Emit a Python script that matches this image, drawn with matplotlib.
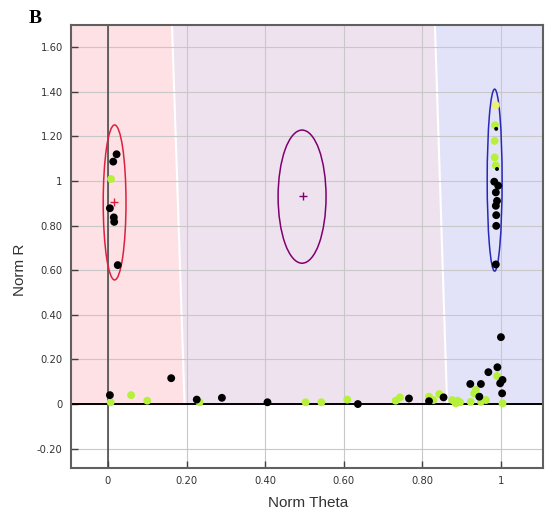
import numpy as np
import matplotlib.pyplot as plt
from matplotlib.patches import Ellipse, Polygon

# black points (theta, r)
blk_x = [0.022, 0.0135, 0.005, 0.015, 0.016, 0.025,
         0.005, 0.161, 0.226, 0.29, 0.406, 0.636, 0.766, 0.817, 0.854,
         0.922, 0.945, 0.949, 0.968, 0.991, 0.998, 1.004, 1.003, 1.0,
         0.983, 0.993, 0.987, 0.990, 0.987, 0.988, 0.988, 0.987]
blk_y = [1.12, 1.087, 0.878, 0.837, 0.817, 0.623,
         0.04, 0.116, 0.02, 0.028, 0.008, 0.0, 0.025, 0.013, 0.03,
         0.09, 0.033, 0.09, 0.143, 0.165, 0.093, 0.108, 0.048, 0.30,
         0.997, 0.979, 0.949, 0.911, 0.889, 0.847, 0.799, 0.626]
# small black points hidden inside the green ones
sblk_x = [0.988, 0.990]
sblk_y = [1.234, 1.054]
# green points
grn_x = [0.008, 0.007, 0.059, 0.10, 0.233, 0.503, 0.543, 0.609, 0.732, 0.743,
         0.817, 0.828, 0.843, 0.876, 0.885, 0.890, 0.896, 0.923, 0.932, 0.936,
         0.949, 0.962, 0.99, 1.004,
         0.985, 0.984, 0.984, 0.987]
grn_y = [1.009, 0.008, 0.04, 0.015, 0.008, 0.008, 0.008, 0.02, 0.015, 0.03,
         0.033, 0.018, 0.045, 0.018, 0.003, 0.015, 0.008, 0.01, 0.048, 0.063,
         0.01, 0.018, 0.126, 0.003,
         1.25, 1.18, 1.106, 1.07]
ylw_x = [0.987]
ylw_y = [1.34]

# cluster ellipses: center x, center y, width, height, colour
ell_cx = [0.017, 0.494, 0.984]
ell_cy = [0.904, 0.930, 1.004]
ell_w = [0.058, 0.122, 0.038]
ell_h = [0.695, 0.597, 0.816]
ell_c = ['#dd2040', '#800070', '#2828b8']

xmin, xmax = -0.094, 1.107
ymin, ymax = -0.285, 1.70

fig = plt.figure(figsize=(5.46, 5.19), dpi=100)
ax = fig.add_axes([0.130, 0.099, 0.8645, 0.853])
ax.set_xlim(xmin, xmax)
ax.set_ylim(ymin, ymax)

# region backgrounds
b1 = [(0.163, ymax), (0.195, 0)]
b2 = [(0.832, ymax), (0.863, 0)]
ax.add_patch(Polygon([(xmin, 0), (xmin, ymax), b1[0], b1[1]], closed=True,
                     fc='#fde1e4', ec='none', zorder=0.2))
ax.add_patch(Polygon([b1[1], b1[0], b2[0], b2[1]], closed=True,
                     fc='#efe2ef', ec='none', zorder=0.2))
ax.add_patch(Polygon([b2[1], b2[0], (xmax, ymax), (xmax, 0)], closed=True,
                     fc='#e2e3f8', ec='none', zorder=0.2))
for b in (b1, b2):
    ax.plot([b[0][0], b[1][0]], [b[0][1], b[1][1]], color='white', lw=1.5, zorder=0.3)

ax.set_axisbelow(True)
ax.grid(True, color='#c8c8c8', lw=0.8)

ax.axhline(0, color='black', lw=1.4, zorder=1)
ax.axvline(0, color='#404040', lw=1.1, zorder=1)

for cx, cy, w, h, c in zip(ell_cx, ell_cy, ell_w, ell_h, ell_c):
    ax.add_patch(Ellipse((cx, cy), w, h, fill=False, ec=c, lw=1.1, zorder=2))
ax.plot([0.016], [0.907], marker='+', color='#dd2040', ms=6, mew=1, zorder=3)
ax.plot([0.496], [0.933], marker='+', color='#800070', ms=6, mew=1, zorder=3)

ax.scatter(grn_x, grn_y, s=32, c='#b6f03c', edgecolors='none', zorder=3)
ax.scatter(ylw_x, ylw_y, s=32, c='#eef070', edgecolors='none', zorder=3)
ax.scatter(blk_x, blk_y, s=32, c='black', edgecolors='none', zorder=4)
ax.scatter(sblk_x, sblk_y, s=8, c='black', edgecolors='none', zorder=4)

xt = [0, 0.2, 0.4, 0.6, 0.8, 1.0]
xl = ['0', '0.20', '0.40', '0.60', '0.80', '1']
yt = [-0.2, 0, 0.2, 0.4, 0.6, 0.8, 1.0, 1.2, 1.4, 1.6]
yl = ['-0.20', '0', '0.20', '0.40', '0.60', '0.80', '1', '1.20', '1.40', '1.60']
ax.set_xticks(xt)
ax.set_xticklabels(xl)
ax.set_yticks(yt)
ax.set_yticklabels(yl)
ax.tick_params(direction='in', length=5, width=1, color='#404040',
               labelsize=8, labelcolor='#333333', pad=6)
for lab in ax.get_xticklabels() + ax.get_yticklabels():
    lab.set_fontstretch('condensed')

for s in ax.spines.values():
    s.set_color('#606060')
    s.set_linewidth(1.5)

fig.text(0.565, 0.031, 'Norm Theta', ha='center', va='center', fontsize=11,
         family='Liberation Sans', color='#333333')
fig.text(0.037, 0.48, 'Norm R', ha='center', va='center', fontsize=11,
         family='Liberation Sans', color='#333333', rotation=90)
fig.text(0.064, 0.965, 'B', ha='center', va='center', fontsize=14,
         family='Liberation Serif', weight='bold')

fig.savefig('out.png', dpi=100)
